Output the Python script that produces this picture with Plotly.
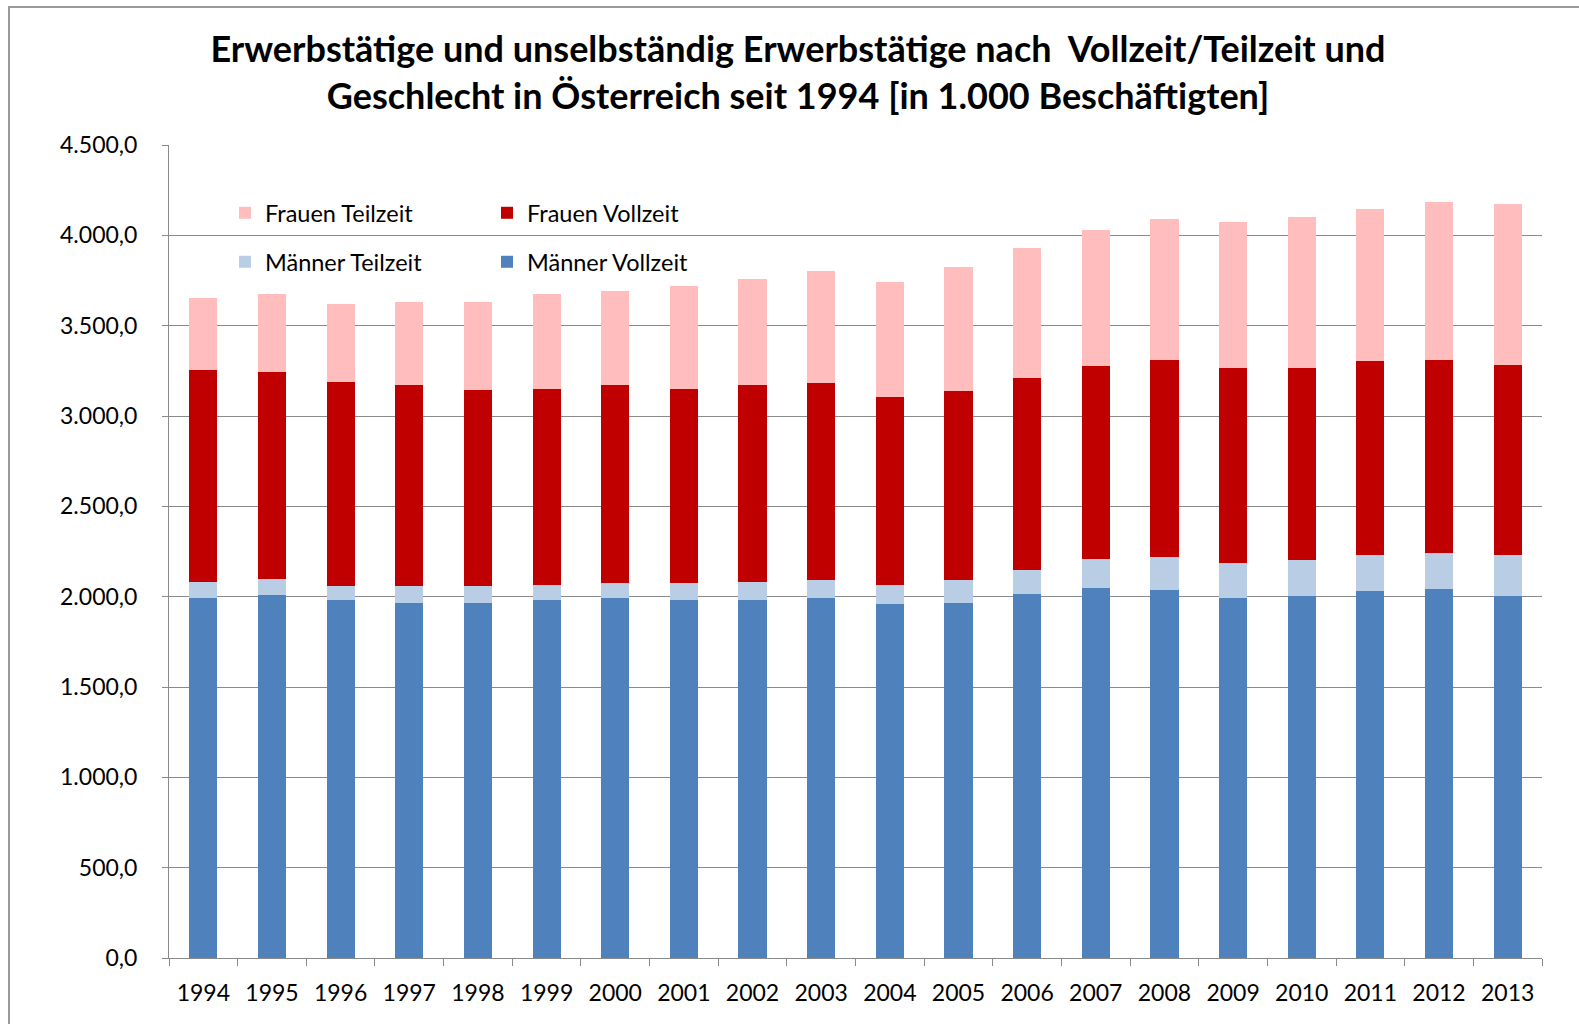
import plotly.graph_objects as go

years = [str(y) for y in range(1994, 2014)]

maenner_vollzeit = [1993, 2009, 1983, 1963, 1963, 1983, 1993, 1983, 1983, 1993,
                    1959, 1967, 2013, 2048, 2039, 1994, 2004, 2032, 2041, 2004]
maenner_teilzeit = [90, 91, 74, 94, 94, 82, 81, 91, 100, 100,
                    108, 127, 135, 163, 182, 192, 198, 198, 198, 226]
frauen_vollzeit = [1169, 1141, 1130, 1113, 1086, 1087, 1096, 1078, 1087, 1087,
                   1037, 1045, 1063, 1067, 1088, 1081, 1065, 1072, 1070, 1055]
frauen_teilzeit = [403, 433, 433, 459, 486, 522, 523, 568, 591, 620,
                   640, 687, 721, 750, 782, 805, 833, 842, 873, 887]

FONT = "Lato, 'Open Sans', Arial, sans-serif"
GRID = "#8a8a8a"

fig = go.Figure()
fig.add_bar(x=years, y=maenner_vollzeit, name="Männer Vollzeit",
            marker=dict(color="#4F81BD", line=dict(width=0)),
            legend="legend2", legendrank=2)
fig.add_bar(x=years, y=maenner_teilzeit, name="Männer Teilzeit",
            marker=dict(color="#B9CDE5", line=dict(width=0)),
            legend="legend2", legendrank=1)
fig.add_bar(x=years, y=frauen_vollzeit, name="Frauen Vollzeit",
            marker=dict(color="#C00000", line=dict(width=0)),
            legend="legend", legendrank=2)
fig.add_bar(x=years, y=frauen_teilzeit, name="Frauen Teilzeit",
            marker=dict(color="#FFBDBD", line=dict(width=0)),
            legend="legend", legendrank=1)

L, R, T, B = 169, 37, 145, 66
W, H = 1579, 1024
pw = W - L - R
ph = H - T - B

def px_x(x):
    return (x - L) / pw

def px_y(y):
    return (H - B - y) / ph

fig.update_layout(
    width=W, height=H,
    margin=dict(l=L, r=R, t=T, b=B, autoexpand=False),
    paper_bgcolor="white", plot_bgcolor="white",
    barmode="stack", bargap=0.59,
    separators=",.",
    font=dict(family=FONT, size=23, color="#000000"),
    title=dict(
        text="Erwerbstätige und unselbständig Erwerbstätige nach  Vollzeit/Teilzeit und<br>"
             "Geschlecht in Österreich seit 1994 [in 1.000 Beschäftigten]",
        x=798 / W, xref="container", xanchor="center",
        y=1 - 62 / H, yanchor="middle",
        font=dict(family=FONT, size=36, color="#000000", weight="bold"),
    ),
    legend=dict(
        orientation="h", entrywidth=217, entrywidthmode="pixels",
        traceorder="normal",
        x=px_x(225), xanchor="left", y=px_y(213), yanchor="middle",
        bgcolor="rgba(0,0,0,0)", font=dict(family=FONT, size=23.5),
        itemclick=False, itemdoubleclick=False,
    ),
    legend2=dict(
        orientation="h", entrywidth=217, entrywidthmode="pixels",
        traceorder="normal",
        x=px_x(225), xanchor="left", y=px_y(262), yanchor="middle",
        bgcolor="rgba(0,0,0,0)", font=dict(family=FONT, size=23.5),
        itemclick=False, itemdoubleclick=False,
    ),
    xaxis=dict(
        type="category", showline=True, linecolor=GRID, linewidth=1,
        ticks="outside", tickson="boundaries", ticklen=7, tickcolor=GRID,
        tickwidth=1, ticklabelstandoff=14, showgrid=False,
        tickfont=dict(family=FONT, size=23),
    ),
    yaxis=dict(
        range=[0, 4500], dtick=500, tickformat=",.1f",
        showline=True, linecolor=GRID, linewidth=1,
        ticks="outside", ticklen=6, tickcolor=GRID, tickwidth=1,
        ticklabelstandoff=20,
        showgrid=True, gridcolor=GRID, gridwidth=1, zeroline=False,
        tickfont=dict(family=FONT, size=23),
    ),
    shapes=[
        dict(type="line", xref="paper", yref="paper",
             x0=px_x(8), x1=px_x(W + 5), y0=px_y(7), y1=px_y(7),
             line=dict(color="#9a9a9a", width=2)),
        dict(type="line", xref="paper", yref="paper",
             x0=px_x(9), x1=px_x(9), y0=px_y(7), y1=px_y(H + 5),
             line=dict(color="#9a9a9a", width=2)),
    ],
)

fig.write_html("out.html",
               config={"displayModeBar": False},
               post_script="document.body.style.margin='0';document.body.style.overflow='hidden';")
